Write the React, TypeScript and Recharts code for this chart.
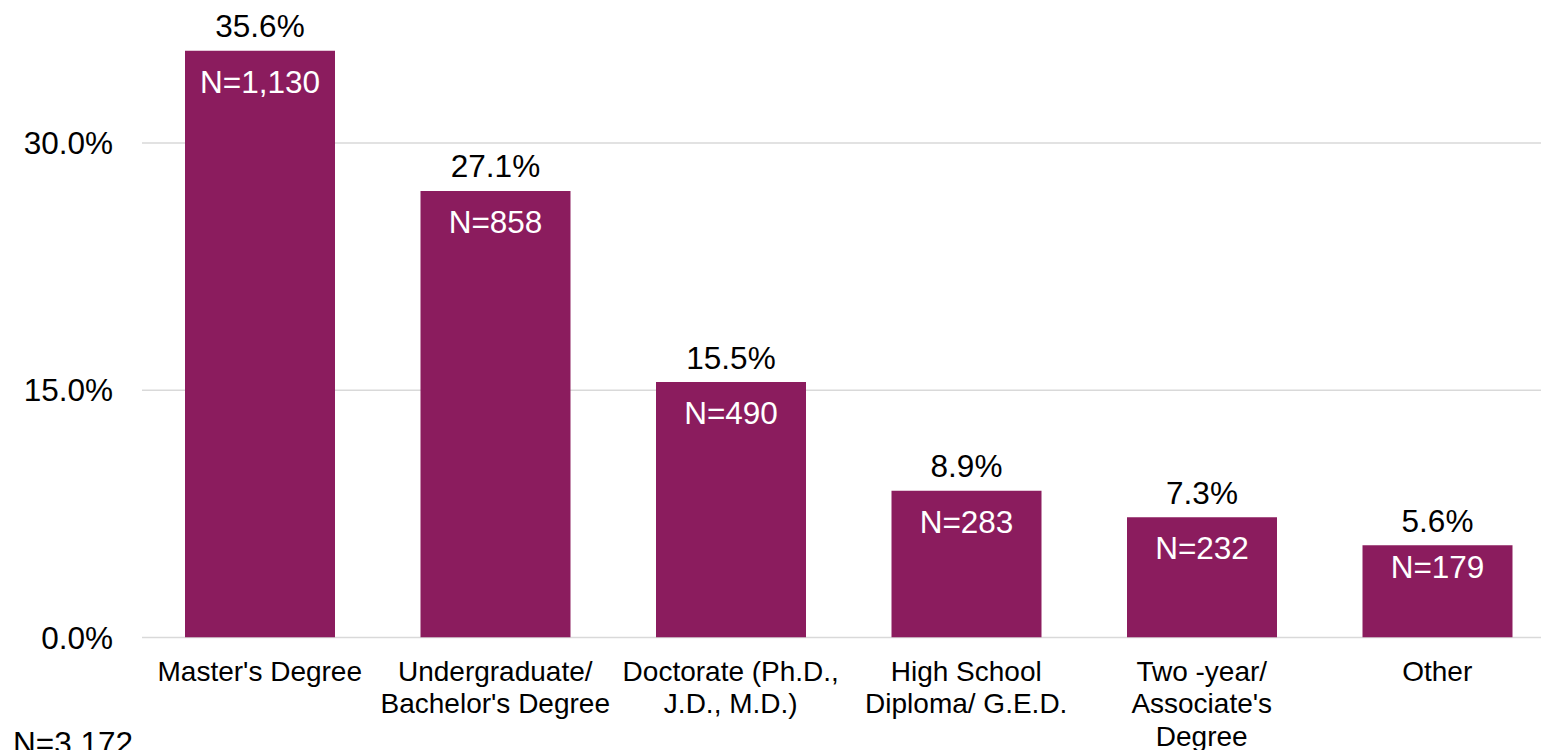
import React from 'react';
import { BarChart, Bar, XAxis, YAxis, CartesianGrid, LabelList } from 'recharts';

const categories = [
  "Master's Degree",
  "Undergraduate/ Bachelor's Degree",
  'Doctorate (Ph.D., J.D., M.D.)',
  'High School Diploma/ G.E.D.',
  "Two -year/ Associate's Degree",
  'Other',
];
const tickLines = [
  ["Master's Degree"],
  ['Undergraduate/', "Bachelor's Degree"],
  ['Doctorate (Ph.D.,', 'J.D., M.D.)'],
  ['High School', 'Diploma/ G.E.D.'],
  ['Two -year/', "Associate's", 'Degree'],
  ['Other'],
];
const percents = [35.6, 27.1, 15.5, 8.9, 7.3, 5.6];
const counts = [1130, 858, 490, 283, 232, 179];
const yTicks = [0, 15, 30];
const totalN = 'N=3,172';

const FONT = '"Liberation Sans", Arial, sans-serif';
const BAR_COLOR = '#8B1C5E';

const data = categories.map((name, i) => ({
  name,
  pct: percents[i],
  n: counts[i],
}));

const XTick = (props: any) => {
  const { x, y, index } = props;
  const lines = tickLines[index] || [];
  return (
    <g>
      {lines.map((l, k) => (
        <text key={k} x={x} y={y + 43 + k * 32.5} textAnchor="middle" fontSize={28} fill="#000" fontFamily={FONT}>
          {l}
        </text>
      ))}
    </g>
  );
};

const YTick = (props: any) => {
  const { y, payload } = props;
  return (
    <text x={113} y={y + 11} textAnchor="end" fontSize={31.5} fill="#000" fontFamily={FONT}>
      {payload.value.toFixed(1)}%
    </text>
  );
};

const PctLabel = (props: any) => {
  const { x, y, width, value } = props;
  return (
    <text x={x + width / 2} y={y - 13.5} textAnchor="middle" fontSize={31.5} fill="#000" fontFamily={FONT}>
      {value.toFixed(1)}%
    </text>
  );
};

const CountLabel = (props: any) => {
  const { x, y, width, height, value } = props;
  const off = height < 100 ? 33 : 42;
  return (
    <text x={x + width / 2} y={y + off} textAnchor="middle" fontSize={31.5} fill="#fff" fontFamily={FONT}>
      N={value.toLocaleString('en-US')}
    </text>
  );
};

export default function App() {
  return (
    <div style={{ position: 'fixed', left: 0, top: 0, width: 1541, height: 750, overflow: 'hidden', background: '#fff' }}>
      <BarChart
        width={1600}
        height={800}
        data={data}
        margin={{ top: 44.2, right: 45, left: 0, bottom: 42.5 }}
        barSize={150}
      >
        <CartesianGrid vertical={false} horizontalValues={yTicks} stroke="#d9d9d9" strokeWidth={1.5} />
        <XAxis
          dataKey="name"
          axisLine={false}
          tickLine={false}
          tickSize={0}
          tickMargin={0}
          interval={0}
          height={120}
          tick={<XTick />}
        />
        <YAxis
          type="number"
          domain={[0, 36]}
          ticks={yTicks}
          width={142}
          axisLine={false}
          tickLine={false}
          tick={<YTick />}
          allowDataOverflow
        />
        <Bar dataKey="pct" fill={BAR_COLOR} isAnimationActive={false}>
          <LabelList dataKey="pct" content={<PctLabel />} />
          <LabelList dataKey="n" content={<CountLabel />} />
        </Bar>
      </BarChart>
      <div style={{ position: 'absolute', left: 13, top: 725, fontSize: 31.5, fontFamily: FONT, lineHeight: '36px', color: '#000' }}>
        {totalN}
      </div>
    </div>
  );
}
